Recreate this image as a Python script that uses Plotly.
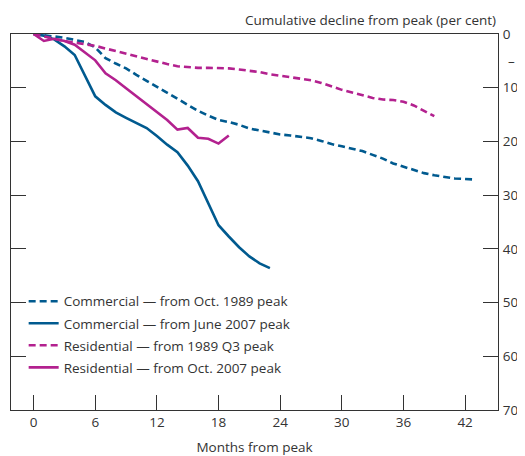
import plotly.graph_objects as go

# Months from peak
months_com_1989 = list(range(0, 44))
months_com_2007 = list(range(0, 24))
months_res_1989 = list(range(0, 40))
months_res_2007 = list(range(0, 20))

# Cumulative decline from peak (per cent)
com_1989 = [0, 0.2, 0.4, 0.7, 1.1, 1.5, 2.5, 4.5, 5.5, 6.4, 7.6, 8.7, 9.8, 10.9, 12.0,
            13.1, 14.3, 15.2, 16.0, 16.4, 16.9, 17.6, 18.0, 18.4, 18.7, 18.9, 19.1, 19.4,
            19.9, 20.5, 20.9, 21.3, 21.8, 22.5, 23.2, 24.1, 24.7, 25.3, 25.9, 26.3, 26.6,
            26.9, 27.0, 27.1]
com_2007 = [0, 0.3, 1.0, 2.3, 3.9, 7.7, 11.6, 13.2, 14.6, 15.6, 16.6, 17.5, 19.0, 20.6,
            22.0, 24.5, 27.4, 31.5, 35.6, 37.7, 39.7, 41.4, 42.7, 43.6]
res_1989 = [0, 0.5, 0.9, 1.3, 1.6, 1.9, 2.2, 2.7, 3.2, 3.7, 4.2, 4.7, 5.2, 5.6, 6.0, 6.2,
            6.3, 6.3, 6.3, 6.4, 6.6, 6.8, 7.1, 7.5, 7.8, 8.0, 8.3, 8.6, 9.1, 9.8, 10.4,
            10.9, 11.4, 11.9, 12.2, 12.3, 12.6, 13.3, 14.3, 15.3]
res_2007 = [0, 1.3, 0.9, 1.3, 2.0, 3.5, 4.9, 7.3, 8.6, 10.1, 11.6, 13.1, 14.6, 16.0, 17.8,
            17.5, 19.3, 19.5, 20.4, 18.9]

names = ["Commercial — from Oct. 1989 peak", "Commercial — from June 2007 peak",
         "Residential — from 1989 Q3 peak", "Residential — from Oct. 2007 peak"]

x_ticks = [0, 6, 12, 18, 24, 30, 36, 42]
y_ticks = [0, 10, 20, 30, 40, 50, 60, 70]
y_labels = ["0", "10", "20", "30", "40", "50", "60", "70"]

BLUE = "#005a8f"
MAG = "#b3218f"
AX = "#333333"
FONT = "Open Sans"
FS = 13.5

fig = go.Figure()
series = [(months_com_1989, com_1989, BLUE, "dash"),
          (months_com_2007, com_2007, BLUE, "solid"),
          (months_res_1989, res_1989, MAG, "dash"),
          (months_res_2007, res_2007, MAG, "solid")]
for i, ((xs, ys, c, d), n) in enumerate(zip(series, names)):
    fig.add_trace(go.Scatter(x=xs, y=ys, mode="lines", name=n, legendgroup=f"g{i}",
                             line=dict(color=c, width=2.6,
                                       dash="7px,4px" if d == "dash" else "solid")))

# page body has an 8px margin: figure is sized/offset to compensate
fig.update_layout(
    width=517, height=448,
    margin=dict(l=2, r=27, t=26, b=44),
    paper_bgcolor="white", plot_bgcolor="white",
    font=dict(family=FONT, size=FS, color=AX),
    showlegend=True,
    legend=dict(x=0.026, y=0.33, xanchor="left", yanchor="top",
                bgcolor="rgba(0,0,0,0)", font=dict(size=FS, color=AX),
                tracegroupgap=1.5),
    xaxis=dict(range=[-2.2, 45.2], tickvals=x_ticks, ticks="inside", ticklen=15,
               tickwidth=1.2, tickcolor=AX, showline=True, linecolor=AX, linewidth=1.2,
               mirror=True, showgrid=False, zeroline=False,
               tickfont=dict(size=FS, color=AX),
               title=dict(text="Months from peak", font=dict(size=FS, color=AX), standoff=13)),
    yaxis=dict(range=[70, 0], tickvals=y_ticks, ticktext=y_labels, side="right",
               ticks="inside", ticklen=15, tickwidth=1.2, tickcolor=AX,
               showline=True, linecolor=AX, linewidth=1.2, mirror="ticks",
               ticklabelstandoff=1,
               showgrid=False, zeroline=False, tickfont=dict(size=FS, color=AX)),
    annotations=[
        dict(text="Cumulative decline from peak (per cent)", xref="paper", yref="paper",
             x=1, y=1, xanchor="right", yanchor="bottom", yshift=3, showarrow=False,
             font=dict(size=FS, color=AX)),
        dict(text="–", xref="paper", yref="y", x=1, y=5, xanchor="left", xshift=8,
             showarrow=False, font=dict(size=FS, color=AX)),
    ],
)

fig.write_html("out.html")
